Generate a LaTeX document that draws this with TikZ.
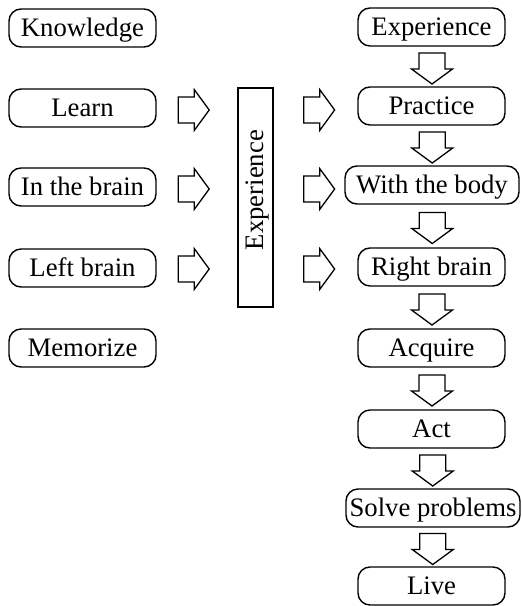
\documentclass[tikz,border=0pt]{standalone}
\usepackage{fontspec}
\setmainfont{Liberation Serif}
\usetikzlibrary{calc}
\begin{document}
\begin{tikzpicture}[x=1pt,y=-1pt,
  box/.style={draw, line width=1.4pt, rounded corners=12pt, minimum width=147pt,
    minimum height=38pt, inner sep=0pt, text height=19pt, text depth=3pt,
    font=\fontsize{26.7}{30}\selectfont},
  widebox/.style={box, minimum width=174pt},
  blk/.style={draw, line width=1.3pt, fill=white, line join=miter},
  harrow/.pic={\draw[blk] (-15.5,-13) -- (0.5,-13) -- (0.5,-20.5) -- (15.5,0)
      -- (0.5,20.5) -- (0.5,13) -- (-15.5,13) -- cycle;},
  varrow/.pic={\draw[blk] (-13,-15.5) -- (-13,0.5) -- (-20.5,0.5) -- (0,15.5)
      -- (20.5,0.5) -- (13,0.5) -- (13,-15.5) -- cycle;}
]
\useasboundingbox (0,0) rectangle (522,606);

% left column
\node[box] (know) at (82.5,28) {Knowledge};
\node[box] (learn) at (82.5,108) {Learn};
\node[box] (brain) at (82.5,187) {In the brain};
\node[box] (leftb) at (82.5,268) {Left brain};
\node[box] (memo) at (82.5,348) {Memorize};

% central experience bar
\node[draw, line width=1.3pt, minimum width=35pt, minimum height=219pt, inner sep=0pt] (exp) at (255.5,197.5) {};
\node[rotate=90, inner sep=0pt, font=\fontsize{26.7}{30}\selectfont] (exptext) at (258,190) {Experience};

% right column
\node[box] (r1) at (431.5,27) {Experience};
\node[box] (r2) at (431.5,106) {Practice};
\node[widebox] (r3) at (432,185) {With the body};
\node[box] (r4) at (431.5,267) {Right brain};
\node[box] (r5) at (431.5,348) {Acquire};
\node[box] (r6) at (431.5,429) {Act};
\node[widebox] (r7) at (433,508) {Solve problems};
\node[box] (r8) at (431.5,586) {Live};

% horizontal block arrows
\pic at ($(learn.east)+(37,2)$) {harrow};
\pic at ($(brain.east)+(37,2)$) {harrow};
\pic at ($(leftb.east)+(37,1)$) {harrow};
\pic at ($(exp.east)+(45.5,-87.5)$) {harrow};
\pic at ($(exp.east)+(45.5,-8.5)$) {harrow};
\pic at ($(exp.east)+(45.5,71.5)$) {harrow};

% vertical block arrows
\foreach \a/\b in {r1/r2, r2/r3, r3/r4, r4/r5, r5/r6, r6/r7, r7/r8}
  \pic at ($($(\a.south)!0.5!(\b.north)$)+(0.5,2)$) {varrow};
\end{tikzpicture}
\end{document}
